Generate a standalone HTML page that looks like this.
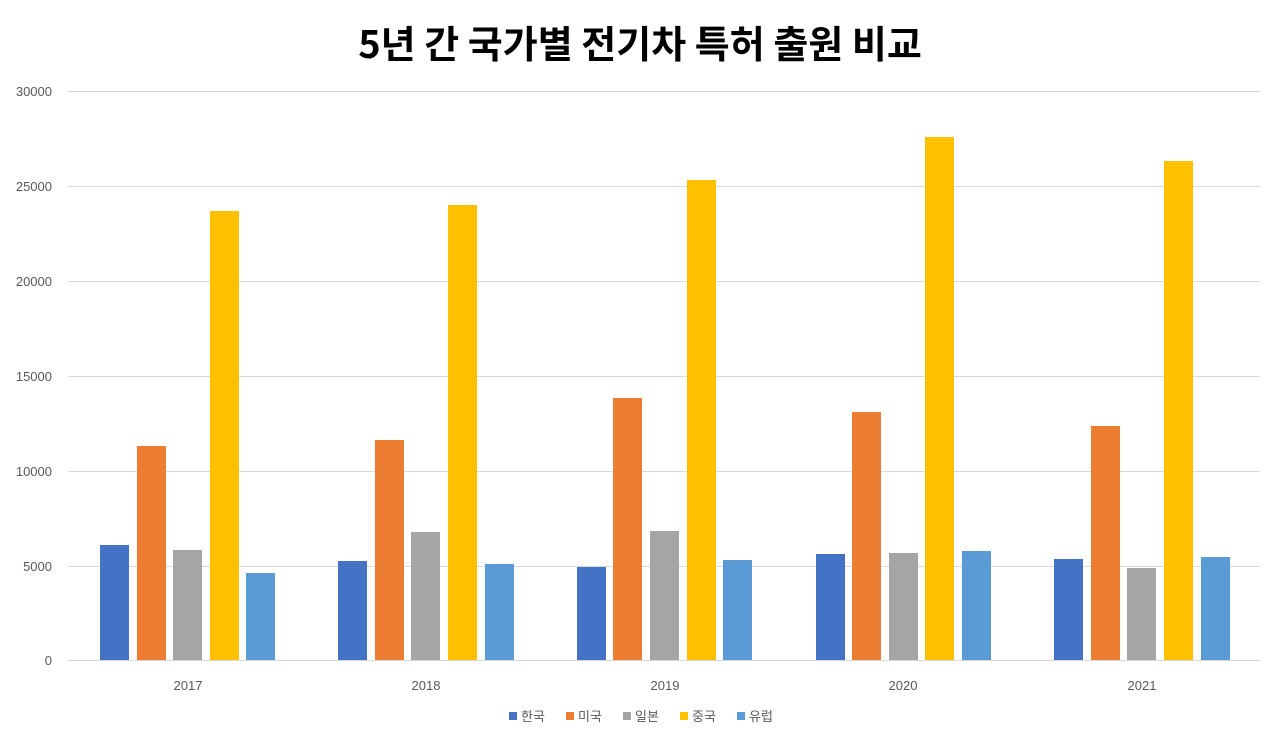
<!DOCTYPE html>
<html><head><meta charset="utf-8"><style>
html,body{margin:0;padding:0;background:#fff;width:1280px;height:743px;overflow:hidden}
text{font-family:"Liberation Sans","Noto Sans CJK KR",sans-serif}
</style></head><body>
<svg width="1280" height="743" viewBox="0 0 1280 743" xmlns="http://www.w3.org/2000/svg">
<text x="640" y="58" text-anchor="middle" font-size="38" font-weight="bold" fill="#000" style="font-family:'Noto Sans CJK KR',sans-serif">5년 간 국가별 전기차 특허 출원 비교</text>
<g stroke="#d9d9d9" stroke-width="1">
<line x1="68" x2="1260" y1="91.5" y2="91.5"/><line x1="68" x2="1260" y1="186.5" y2="186.5"/>
<line x1="68" x2="1260" y1="281.5" y2="281.5"/><line x1="68" x2="1260" y1="376.5" y2="376.5"/>
<line x1="68" x2="1260" y1="471.5" y2="471.5"/><line x1="68" x2="1260" y1="566.5" y2="566.5"/>
<line x1="68" x2="1260" y1="660.5" y2="660.5"/>
</g>
<g font-size="13" fill="#595959" text-anchor="end">
<text x="52" y="96">30000</text><text x="52" y="191">25000</text><text x="52" y="286">20000</text>
<text x="52" y="381">15000</text><text x="52" y="476">10000</text><text x="52" y="571">5000</text><text x="52" y="665">0</text>
</g>
<g id="bars">
<rect x="100" y="545" width="29" height="115" fill="#4472c4"/>
<rect x="137" y="446" width="29" height="214" fill="#ed7d31"/>
<rect x="173" y="550" width="29" height="110" fill="#a5a5a5"/>
<rect x="210" y="211" width="29" height="449" fill="#ffc000"/>
<rect x="246" y="573" width="29" height="87" fill="#5b9bd5"/>

<rect x="338" y="561" width="29" height="99" fill="#4472c4"/>
<rect x="375" y="440" width="29" height="220" fill="#ed7d31"/>
<rect x="411" y="532" width="29" height="128" fill="#a5a5a5"/>
<rect x="448" y="205" width="29" height="455" fill="#ffc000"/>
<rect x="485" y="564" width="29" height="96" fill="#5b9bd5"/>

<rect x="577" y="567" width="29" height="93" fill="#4472c4"/>
<rect x="613" y="398" width="29" height="262" fill="#ed7d31"/>
<rect x="650" y="531" width="29" height="129" fill="#a5a5a5"/>
<rect x="687" y="180" width="29" height="480" fill="#ffc000"/>
<rect x="723" y="560" width="29" height="100" fill="#5b9bd5"/>

<rect x="816" y="554" width="29" height="106" fill="#4472c4"/>
<rect x="852" y="412" width="29" height="248" fill="#ed7d31"/>
<rect x="889" y="553" width="29" height="107" fill="#a5a5a5"/>
<rect x="925" y="137" width="29" height="523" fill="#ffc000"/>
<rect x="962" y="551" width="29" height="109" fill="#5b9bd5"/>

<rect x="1054" y="559" width="29" height="101" fill="#4472c4"/>
<rect x="1091" y="426" width="29" height="234" fill="#ed7d31"/>
<rect x="1127" y="568" width="29" height="92" fill="#a5a5a5"/>
<rect x="1164" y="161" width="29" height="499" fill="#ffc000"/>
<rect x="1201" y="557" width="29" height="103" fill="#5b9bd5"/>
</g>
<g font-size="13" fill="#595959" text-anchor="middle">
<text x="188" y="690">2017</text><text x="426" y="690">2018</text><text x="665" y="690">2019</text>
<text x="903" y="690">2020</text><text x="1142" y="690">2021</text>
</g>
<g font-size="13" fill="#595959" style="font-family:'Noto Sans CJK KR',sans-serif">
<rect x="509" y="712" width="8" height="8" fill="#4472c4"/><text x="521" y="721">한국</text>
<rect x="566" y="712" width="8" height="8" fill="#ed7d31"/><text x="578" y="721">미국</text>
<rect x="623" y="712" width="8" height="8" fill="#a5a5a5"/><text x="635" y="721">일본</text>
<rect x="680" y="712" width="8" height="8" fill="#ffc000"/><text x="692" y="721">중국</text>
<rect x="737" y="712" width="8" height="8" fill="#5b9bd5"/><text x="749" y="721">유럽</text>
</g>
</svg>
</body></html>
